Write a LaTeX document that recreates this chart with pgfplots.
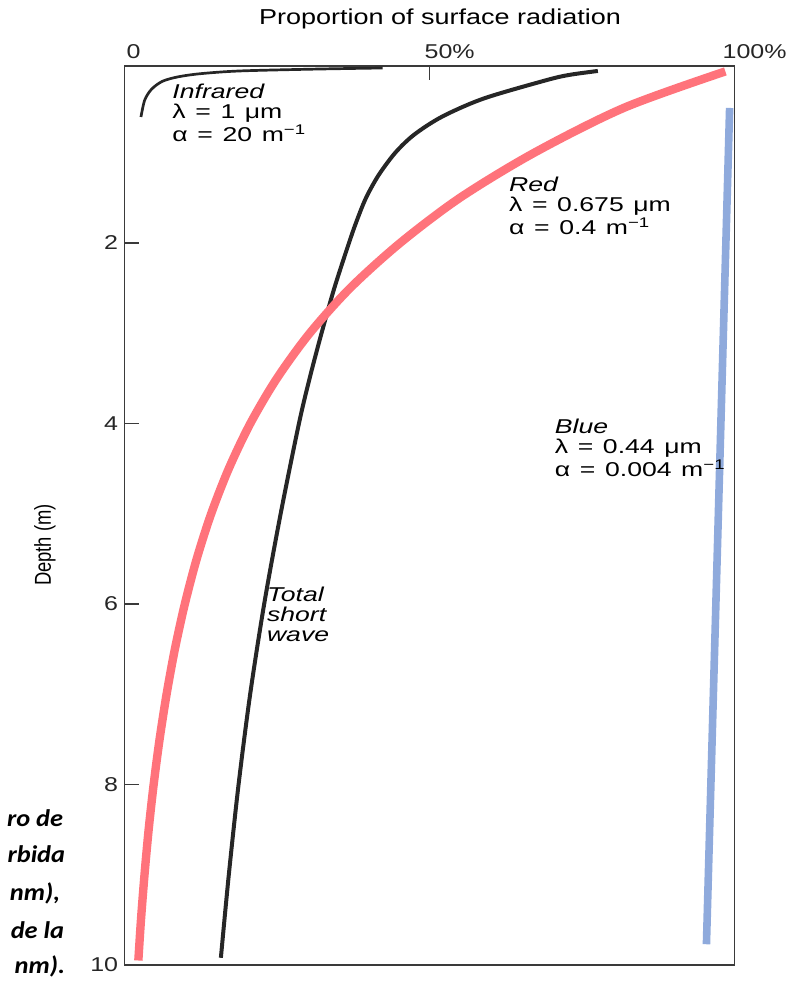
\documentclass[border=0pt]{standalone}
\usepackage{fontspec}
\setmainfont{Liberation Sans}[FakeStretch=1.25]
\newfontfamily\annotfont{Liberation Sans}[FakeStretch=1.33, WordSpace=1.3]
\newfontfamily\depthfont{Liberation Sans}[FakeStretch=0.8]
\newfontfamily\notefont{Carlito}[FakeStretch=1.1]
\usepackage{pgfplots}
\pgfplotsset{compat=1.18}
\definecolor{redline}{HTML}{FF737B}
\definecolor{blueline}{HTML}{8FAADC}
\definecolor{curve}{HTML}{262626}
\definecolor{axisgray}{HTML}{3A3A3A}
\newcommand{\annot}{\annotfont\fontsize{10bp}{10bp}\selectfont}
\begin{document}
\begin{tikzpicture}
\useasboundingbox (-62.25bp,-8.5bp) rectangle (339.25bp,482.5bp);
\begin{axis}[
  at={(0,0)}, anchor=south west,
  scale only axis, width=305bp, height=449.5bp,
  xmin=0, xmax=100, ymin=0.04, ymax=10,
  y dir=reverse,
  axis line style={axisgray, line width=0.75bp},
  xtick={0,50,100}, xticklabels={0,50\rlap{\%},100\rlap{\%}},
  xtick pos=right, xticklabel pos=right,
  ytick={2,4,6,8,10}, ytick pos=left,
  tick align=inside, major tick length=7bp,
  tick style={axisgray, line width=0.75bp},
  /pgf/number format/assume math mode=true,
  ticklabel style={font=\fontsize{10bp}{11bp}\selectfont, text=black!85},
  xticklabel style={inner sep=0pt, yshift=3.5bp, xshift=4.5bp},
  yticklabel style={inner sep=0pt, xshift=-3bp},
]
% Infrared
\addplot[curve, line width=1.35bp, smooth] coordinates {
(42.3,0.062)(30.9,0.075)(18.9,0.095)(12.5,0.125)(8.8,0.16)(6.2,0.21)(4.4,0.30)(3.3,0.42)(2.7,0.605)};
% Total short wave
\addplot[curve, line width=2bp, smooth] coordinates {
(77.6,0.095)(72.8,0.14)(69.0,0.2)(58.9,0.4)(52.1,0.6)(47.5,0.8)(44.4,1.0)(41.65,1.25)(39.6,1.5)(38.1,1.75)(36.8,2.0)(34.4,2.5)(32.3,3.0)(30.35,3.5)(28.6,4.0)(25.6,5.0)(22.9,6.0)(20.6,7.0)(18.7,8.0)(17.1,9.0)(15.8,9.92)};
% Red
\addplot[redline, line width=4.2bp, smooth] coordinates {
(98.5,0.1)(82.0,0.5)(67.2,1.0)(55.0,1.5)(45.2,2.0)(37.0,2.5)(30.37,3.0)(24.99,3.5)(20.63,4.0)(17.10,4.5)(14.21,5.0)(11.84,5.5)(9.89,6.0)(8.26,6.5)(6.90,7.0)(5.75,7.5)(4.78,8.0)(3.96,8.5)(3.28,9.0)(2.70,9.5)(2.27,9.95)};
% Blue
\addplot[blueline, line width=3.8bp] coordinates {(99.2,0.505)(95.4,9.77)};
\node[anchor=north west, inner sep=0pt, align=left, font=\annot] at (axis cs:7.8,0.24)
  {\textit{Infrared}\\λ = 1 μm\\α = 20 m\textsuperscript{−1}};
\node[anchor=north west, inner sep=0pt, align=left, font=\annot] at (axis cs:63.0,1.27)
  {\textit{Red}\\λ = 0.675 μm\\α = 0.4 m\textsuperscript{−1}};
\node[anchor=north west, inner sep=0pt, align=left, font=\annot] at (axis cs:70.5,3.95)
  {\textit{Blue}\\λ = 0.44 μm\\α = 0.004 m\textsuperscript{−1}};
\node[anchor=north west, inner sep=0pt, align=left, font=\annot\itshape] at (axis cs:23.3,5.81)
  {Total\\short\\wave};
\end{axis}
\node[font=\fontsize{10.8bp}{12bp}\selectfont] at (157.75bp,473bp) {Proportion of surface radiation};
\node[rotate=90, font=\depthfont\fontsize{11.5bp}{13bp}\selectfont] at (-39.75bp,210bp) {Depth (m)};
\begin{scope}[every node/.style={anchor=base east, inner sep=0pt, font=\notefont\bfseries\itshape\fontsize{12bp}{14bp}\selectfont}]
\node at (-30.5bp,69bp) {ro de};
\node at (-29.5bp,51bp) {rbida};
\node at (-32bp,32.5bp) {nm),};
\node at (-30bp,13.5bp) {de la};
\node at (-29.5bp,-4bp) {nm).};
\end{scope}
\end{tikzpicture}
\end{document}
